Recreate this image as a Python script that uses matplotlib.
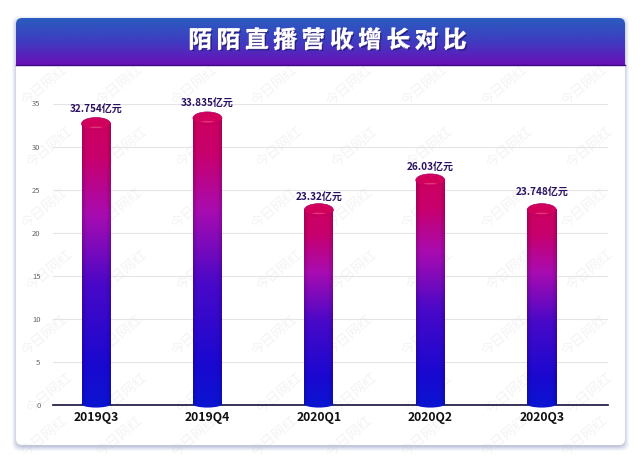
import numpy as np
import matplotlib
matplotlib.use('Agg')
import matplotlib.pyplot as plt
from matplotlib.colors import LinearSegmentedColormap
from matplotlib.patches import FancyBboxPatch, Ellipse
import matplotlib.patheffects as pe

plt.rcParams['font.family'] = ['Noto Sans CJK SC', 'DejaVu Sans']

categories = ['2019Q3', '2019Q4', '2020Q1', '2020Q2', '2020Q3']
bar_heights = [32.65, 33.3, 22.65, 26.1, 22.65]
value_labels = ['32.754亿元', '33.835亿元', '23.32亿元', '26.03亿元', '23.748亿元']
y_ticks = [0, 5, 10, 15, 20, 25, 30, 35]
title = '陌 陌 直 播 营 收 增 长 对 比'

W, H = 640, 467
fig = plt.figure(figsize=(6.4, 4.67), dpi=100, facecolor='white')

bg = fig.add_axes([0, 0, 1, 1])
bg.set_xlim(0, W); bg.set_ylim(H, 0); bg.axis('off')

# soft card shadow
for grow, a in [(5, .05), (4, .06), (3, .08), (2, .10), (1, .12)]:
    bg.add_patch(FancyBboxPatch((16 - grow + 1, 18 - grow + 3), 609 + 2 * grow - 2, 427 + 2 * grow - 2,
                                boxstyle='round,pad=0,rounding_size=7', fc='#5a6aa8', ec='none', alpha=a))
card = FancyBboxPatch((16, 18), 609, 427, boxstyle='round,pad=0,rounding_size=6', fc='white', ec='none')
bg.add_patch(card)

# header gradient clipped to card
head_cmap = LinearSegmentedColormap.from_list('head', ['#2a5cc0', '#3f3cc0', '#6a10b8'])
im = bg.imshow(np.linspace(0, 1, 64)[:, None], cmap=head_cmap, extent=(16, 625, 65, 18), aspect='auto', zorder=2)
im.set_clip_path(card)
bg.set_xlim(0, W); bg.set_ylim(H, 0)
bg.plot([16, 625], [65, 65], color='#3a0a80', lw=1, zorder=3)

bg.text(327.5, 41, title, color='white', fontsize=16.6, fontweight='black', ha='center', va='center', zorder=4,
        path_effects=[pe.withStroke(linewidth=.9, foreground='white'),
                      pe.withSimplePatchShadow(offset=(1, -1), shadow_rgbFace='#1a1070', alpha=.8)])

# watermark
for row, yy in enumerate([85, 147, 208, 270, 335, 393, 436]):
    for xx in [45, 120, 195, 275, 350, 425, 505, 585]:
        bg.text(xx + (row % 2) * 5, yy, '今日网红', color='#b8b8b8', alpha=.16, fontsize=10, rotation=40,
                ha='center', va='center', zorder=1.5)

# chart axes
left, right, y0, y35 = 53, 608, 405, 103.5
ax = fig.add_axes([left / W, 1 - y0 / H, (right - left) / W, (y0 - y35) / H])
ax.patch.set_alpha(0)
x = np.arange(len(categories))
ax.set_xlim(-.386, 4.595)
ax.set_ylim(0, 35)
ax.set_yticks(y_ticks)
ax.set_xticks(x, categories)
ax.grid(axis='y', color='#e4e4e4', lw=.8)
ax.set_axisbelow(True)
for s in ['top', 'right', 'left']:
    ax.spines[s].set_visible(False)
ax.spines['bottom'].set_color('#14103c')
ax.spines['bottom'].set_linewidth(1.2)
ax.tick_params(axis='both', length=0)
ax.tick_params(axis='y', labelsize=5.5, labelcolor='#666666', pad=9)
ax.tick_params(axis='x', labelsize=8.8, labelcolor='#111111', pad=4.5)
for t in ax.get_xticklabels():
    t.set_fontweight('bold')

bw = 29 / ((right - left) / 4.981)
eh = 12.5 / ((y0 - y35) / 35)
bar_cmap = LinearSegmentedColormap.from_list(
    'bar', [(0, '#0c14d0'), (.14, '#1a08d0'), (.42, '#4808c8'), (.68, '#a80cb0'), (.88, '#c8006c'), (1, '#cc0060')])
shade = LinearSegmentedColormap.from_list('s', [(0, (0, 0, 0, .16)), (.15, (0, 0, 0, 0)),
                                                (.85, (0, 0, 0, 0)), (1, (0, 0, 0, .16))])
label_gap = [.45, .45, .2, .2, .75]
bars = ax.bar(x, bar_heights, width=bw, color='none', zorder=3)
for xi, h, r, lab, gap in zip(x, bar_heights, bars, value_labels, label_gap):
    ext = (xi - bw / 2, xi + bw / 2, 0, h)
    ax.imshow(np.linspace(0, 1, 128)[:, None], cmap=bar_cmap, extent=ext, origin='lower',
              aspect='auto', zorder=3)
    ax.imshow(np.linspace(0, 1, 64)[None, :], cmap=shade, extent=ext, aspect='auto', zorder=3.1)
    ax.add_patch(Ellipse((xi, 0.1), bw, eh * .55, fc='#0c14d0', ec='none', zorder=3, clip_on=False))
    ax.add_patch(Ellipse((xi, h), bw, eh, fc='#d0005c', ec='#b00068', lw=.5, zorder=3.2))
    ax.add_patch(Ellipse((xi, h - eh * .28), bw * .45, eh * .12, fc='#f06a9a', ec='none', alpha=.5, zorder=3.3))
    ax.text(xi, h + eh * .5 + gap, lab, ha='center', va='bottom', fontsize=7.2, fontweight='bold',
            color='#2a1060', zorder=4)
ax.set_xlim(-.386, 4.595)
ax.set_ylim(0, 35)

fig.savefig('out.png', dpi=100)
